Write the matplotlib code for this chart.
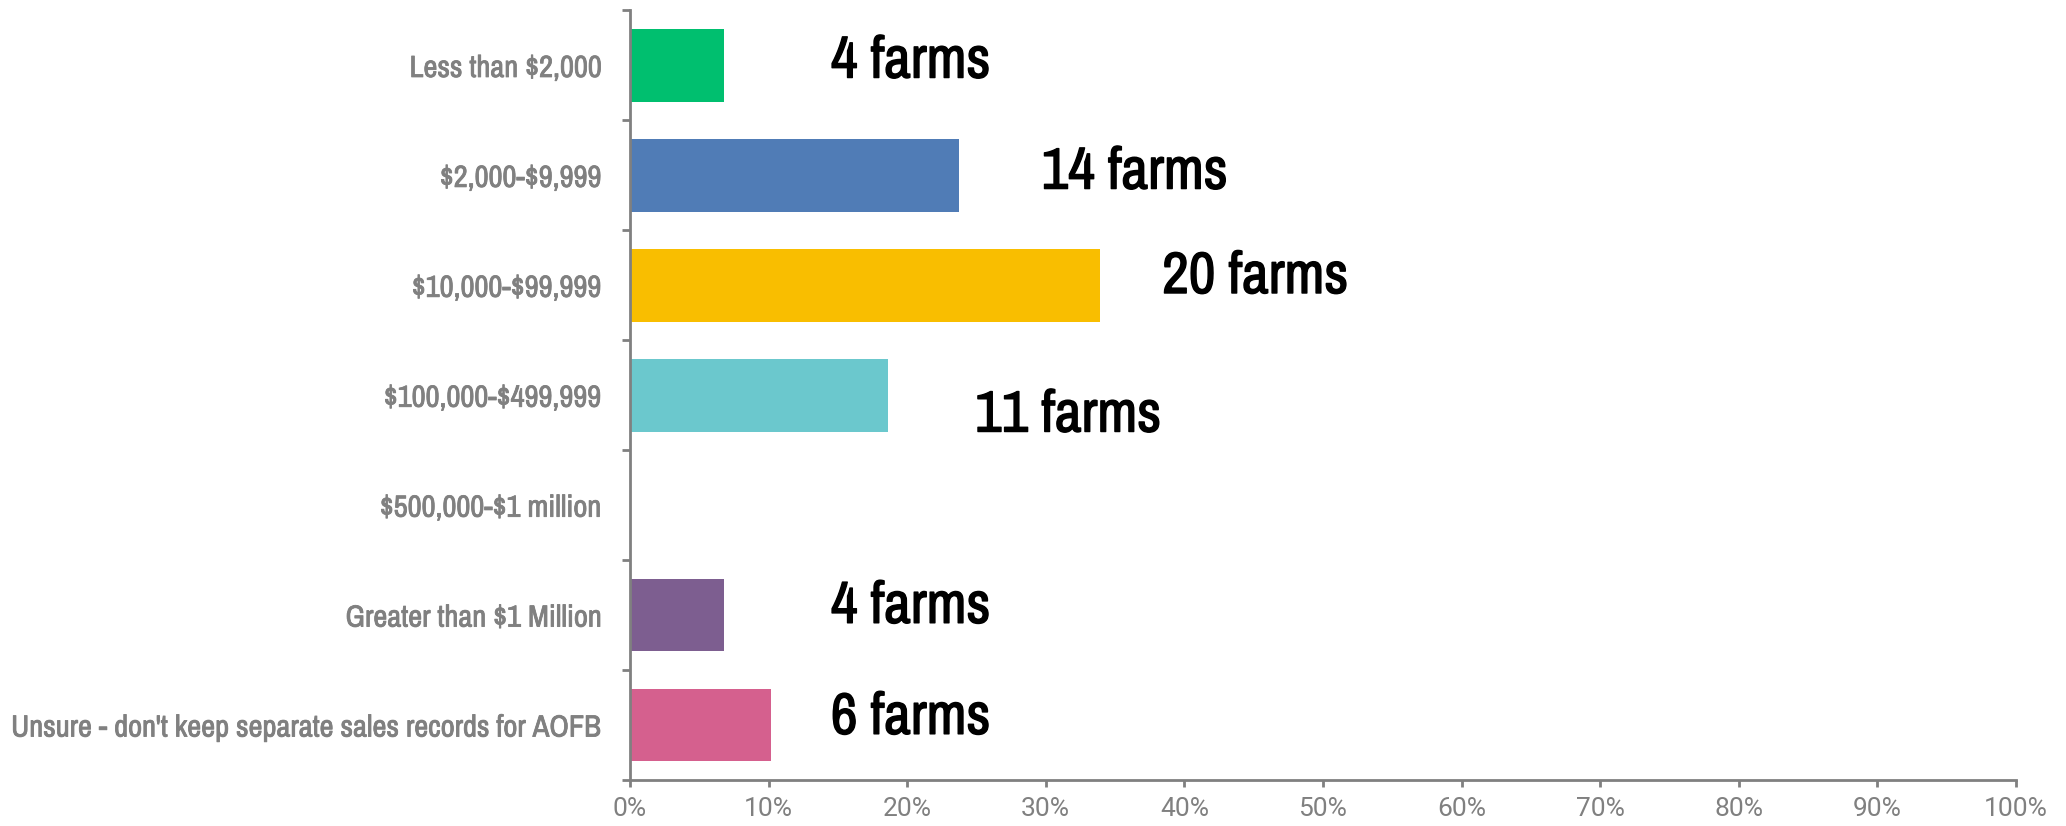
import matplotlib.pyplot as plt
import matplotlib.patheffects as pe

# Farm sales categories and counts
categories = ["Less than $2,000", "$2,000-$9,999", "$10,000-$99,999",
              "$100,000-$499,999", "$500,000-$1 million",
              "Greater than $1 Million",
              "Unsure - don't keep separate sales records for AOFB"]
farms = [4, 14, 20, 11, 0, 4, 6]
colors = ["#00BF6F", "#507CB6", "#F9BE00", "#6BC8CD", "#FFFFFF", "#7D5E90", "#D5608E"]
xticks = [0, 10, 20, 30, 40, 50, 60, 70, 80, 90, 100]

# where the "N farms" labels sit (percent along x, shift in rows)
label_x = [14.5, 29.7, 38.4, 24.9, None, 14.5, 14.5]
label_dy = [-0.04, -0.03, -0.08, 0.18, 0, -0.08, -0.07]

total = sum(farms)
pct = [f / total * 100 for f in farms]

plt.rcParams['font.family'] = ['Archivo Narrow', 'DejaVu Sans']
plt.rcParams['text.parse_math'] = False
gray = "#808080"

fig = plt.figure(figsize=(20.66, 8.26), dpi=100)
ax = fig.add_axes([0.3049, 0.0557, 0.6709, 0.9316])

ypos = list(range(len(categories)))
ax.barh(ypos, pct, height=0.66, color=colors)

for i, f in enumerate(farms):
    if label_x[i] is None:
        continue
    ax.text(label_x[i], i + label_dy[i], f"{f} farms", ha='left', va='center',
            fontsize=42, color='black',
            path_effects=[pe.withStroke(linewidth=1.0, foreground='black')])

ax.set_xlim(0, 100)
ax.set_ylim(len(categories) - 0.5, -0.5)
ax.set_xticks(xticks)
ax.set_xticklabels([f"{t}%" for t in xticks], fontfamily=['Roboto', 'DejaVu Sans'],
                   fontsize=19, color=gray)

ax.set_yticks(ypos)
ax.set_yticklabels(categories)
ax.set_yticks([y - 0.5 for y in ypos] + [len(categories) - 0.5], minor=True)
ax.tick_params(axis='y', which='major', length=0, pad=20, labelsize=22, labelcolor=gray)
ax.tick_params(axis='y', which='minor', length=6, width=2, color=gray, direction='out')
ax.tick_params(axis='x', length=5, width=2, color=gray, pad=7)

for lbl in ax.get_yticklabels():
    lbl.set_path_effects([pe.withStroke(linewidth=0.6, foreground=gray)])

for s in ['top', 'right']:
    ax.spines[s].set_visible(False)
for s in ['left', 'bottom']:
    ax.spines[s].set_color(gray)
    ax.spines[s].set_linewidth(2)

plt.savefig("out.png", dpi=100)
